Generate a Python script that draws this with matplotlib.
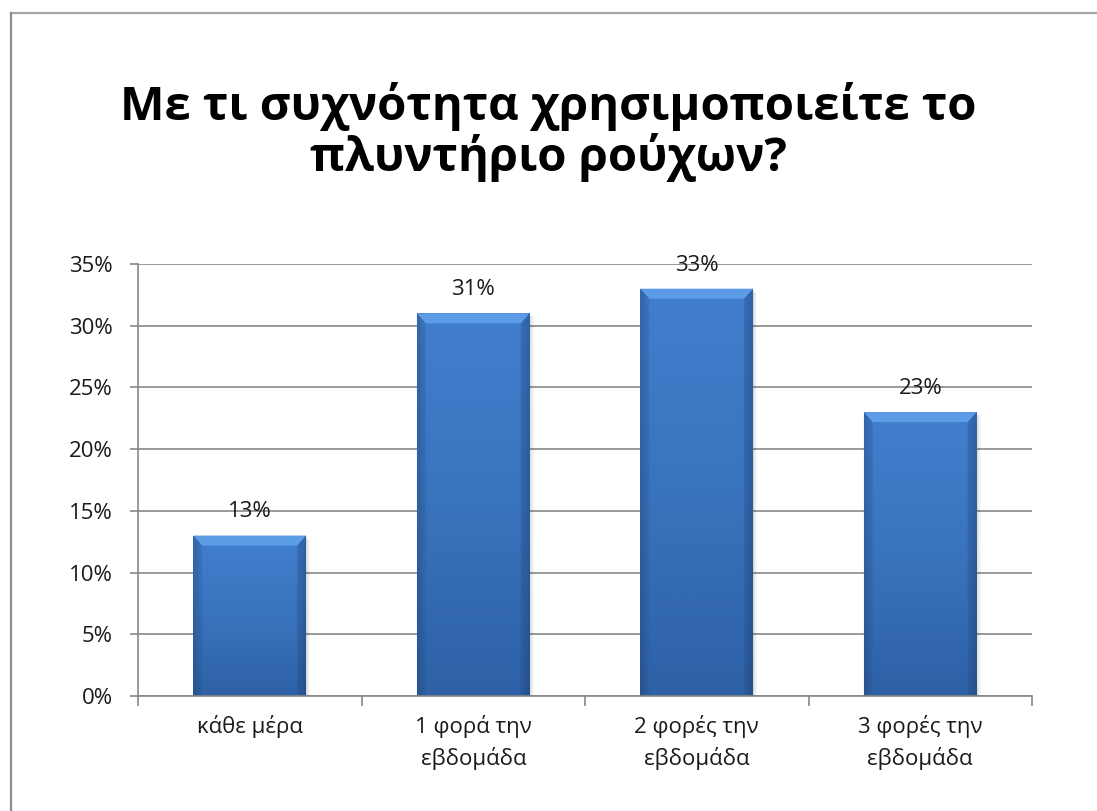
import numpy as np
import matplotlib.pyplot as plt
from matplotlib.patches import Polygon, Rectangle
from matplotlib.colors import LinearSegmentedColormap

# survey answers: how often the washing machine is used
categories = ["κάθε μέρα", "1 φορά την\nεβδομάδα", "2 φορές την\nεβδομάδα", "3 φορές την\nεβδομάδα"]
shares = [0.13, 0.31, 0.33, 0.23]
value_labels = ["13%", "31%", "33%", "23%"]
yticks = [0.0, 0.05, 0.10, 0.15, 0.20, 0.25, 0.30, 0.35]
ytick_labels = ["0%", "5%", "10%", "15%", "20%", "25%", "30%", "35%"]
title = "Με τι συχνότητα χρησιμοποιείτε το\nπλυντήριο ρούχων?"

W, H = 1097, 811
plt.rcParams["font.family"] = ["Open Sans", "DejaVu Sans"]

fig = plt.figure(figsize=(W / 100, H / 100), dpi=100)
ax = fig.add_axes([138 / W, 115 / H, (1032 - 138) / W, (696 - 264) / H])

# chart-area frame (only top and left edges fall inside the picture)
fig.add_artist(plt.Line2D([11 / W, 1], [1 - 13 / H, 1 - 13 / H], color="#a6a6a6", lw=1.6))
fig.add_artist(plt.Line2D([11 / W, 11 / W], [0, 1 - 13 / H], color="#8c8c8c", lw=1.6))

grid_c = "#878787"
ax.set_xlim(-0.5, 3.5)
ax.set_ylim(0, 0.35)
ax.set_yticks(yticks)
ax.set_yticklabels(ytick_labels)
ax.yaxis.grid(True, color=grid_c, lw=1.2, zorder=0)
ax.set_axisbelow(True)
for s in ["top", "right"]:
    ax.spines[s].set_visible(False)
for s in ["left", "bottom"]:
    ax.spines[s].set_color(grid_c)
    ax.spines[s].set_linewidth(1.2)
ax.tick_params(axis="y", length=6, width=1.2, color=grid_c, labelsize=16, pad=12, labelcolor="#1a1a1a")

# category boundaries as tick marks, names as minor ticks
ax.set_xticks(np.arange(-0.5, 4.0, 1.0))
ax.set_xticklabels([])
ax.tick_params(axis="x", which="major", length=7, width=1.2, color=grid_c)
ax.set_xticks(range(len(categories)), minor=True)
ax.set_xticklabels(categories, minor=True)
ax.tick_params(axis="x", which="minor", length=0, labelsize=16, pad=14, labelcolor="#1a1a1a")
for t in ax.get_xticklabels(minor=True):
    t.set_linespacing(1.45)

bar_w = 0.505
bars = ax.bar(range(len(shares)), shares, width=bar_w, color="#3c78c6", zorder=2)

# vertical gradient with darker side edges
cmap = LinearSegmentedColormap.from_list("bar", ["#2e61a6", "#3a73bd", "#417fce"])
ny, nx = 200, 60
vert = np.linspace(0, 1, ny)[:, None]
xs = np.linspace(-1, 1, nx)[None, :]
edge = 1 - 0.15 * np.clip((np.abs(xs) - 0.85) / 0.15, 0, 1)
rgb = cmap(vert * np.ones_like(xs))[..., :3] * edge[..., None]

px_x = 4 / (1032 - 138)  # data units per pixel
px_y = 0.35 / (696 - 264)
for b, v in zip(bars, shares):
    x0, w = b.get_x(), b.get_width()
    # soft shadow
    for k in range(1, 5):
        ax.add_patch(Rectangle((x0 + k * px_x, 0), w, v - k * px_y,
                               color="black", alpha=0.03, lw=0, zorder=1.5))
    im = ax.imshow(rgb, extent=[x0, x0 + w, 0, v], origin="lower",
                   aspect="auto", zorder=2.1, interpolation="bilinear")
    im.set_clip_path(b)
    # bevel on the top edge and sides
    dx, dy = 9 * px_x, 10 * px_y
    ax.add_patch(Polygon([(x0, v), (x0 + w, v), (x0 + w - dx, v - dy), (x0 + dx, v - dy)],
                         closed=True, color="#5c9be6", lw=0, zorder=2.2))
    ax.add_patch(Polygon([(x0, v), (x0 + dx, v - dy), (x0 + dx, 0), (x0, 0)],
                         closed=True, color="#2b5a9c", alpha=0.25, lw=0, zorder=2.2))
    ax.add_patch(Polygon([(x0 + w, v), (x0 + w - dx, v - dy), (x0 + w - dx, 0), (x0 + w, 0)],
                         closed=True, color="#24508e", alpha=0.35, lw=0, zorder=2.2))

for i, (v, lab) in enumerate(zip(shares, value_labels)):
    ax.annotate(lab, (i, v), xytext=(0, 13), textcoords="offset points",
                ha="center", va="baseline", fontsize=16, color="#1a1a1a", zorder=3)

fig.text(0.5, 1 - 132 / H, title, ha="center", va="center", fontsize=34,
         fontweight="bold", color="black", linespacing=1.05)

fig.savefig("out.png", dpi=100)
